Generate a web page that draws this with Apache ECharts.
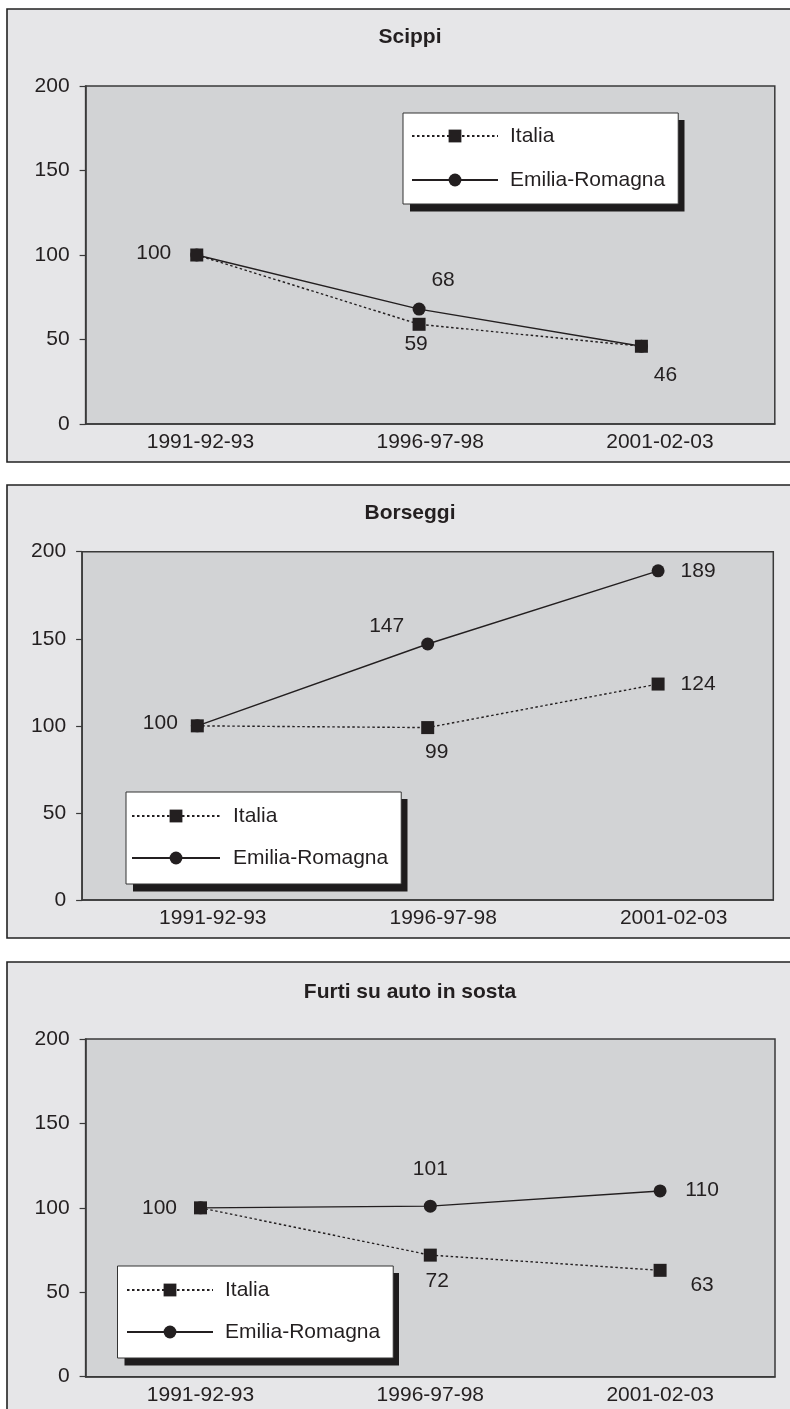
<!DOCTYPE html>
<html>
<head>
<meta charset="utf-8">
<script src="https://cdn.jsdelivr.net/npm/echarts@6/dist/echarts.min.js"></script>
<style>
html,body{margin:0;padding:0;background:#ffffff;}
#chart{width:790px;height:1409px;}
</style>
</head>
<body>
<div id="chart"></div>
<script>
// ---- data ----
var categories = ['1991-92-93', '1996-97-98', '2001-02-03'];
var panelTitles = ['Scippi', 'Borseggi', 'Furti su auto in sosta'];
var seriesNames = ['Italia', 'Emilia-Romagna'];
var yTicks = [0, 50, 100, 150, 200];

var scippiItalia = [100, 59, 46];
var scippiEmilia = [100, 68, 46];
var borseggiItalia = [100, 99, 124];
var borseggiEmilia = [100, 147, 189];
var furtiItalia = [100, 72, 63];
var furtiEmilia = [100, 101, 110];

// which points carry a value label (true/false per point)
var labelShownItalia = [[true, true, true], [true, true, true], [true, true, true]];
var labelShownEmilia = [[false, true, false], [false, true, true], [false, true, true]];

// ---- layout / style ----
var INK = '#231f20';
var FONT = '"Liberation Sans", Arial, Helvetica, sans-serif';
var panels = [
  {box: [7, 9, 800, 453], titleTop: 22,
   grid: {left: 85.6, top: 86, width: 689.2, height: 338}, xMax: 2.6, labelPad: 0,
   legend: {left: 403, top: 113, w: 274.5, h: 91.5, padding: [12, 13, 13, 8], itemWidth: 86, itemGap: 22, textPad: 7},
   offIt: [[-43, -1.5], [-3, 20], [24, 29]], offEr: [null, [24, -29], null]},
  {box: [7, 485, 800, 453], titleTop: 498,
   grid: {left: 82.1, top: 551.7, width: 691.2, height: 348.3}, xMax: 2.5, labelPad: 31,
   legend: {left: 126, top: 792, w: 274.5, h: 92.5, padding: [13, 13, 15, 5], itemWidth: 88, itemGap: 20, textPad: 8},
   offIt: [[-37, -2.5], [9, 25], [40, 0]], offEr: [null, [-41, -17.5], [40, 0]]},
  {box: [7, 962, 800, 470], titleTop: 977,
   grid: {left: 85.6, top: 1039, width: 689.4, height: 337.7}, xMax: 2.5, labelPad: 0,
   legend: {left: 117.5, top: 1266, w: 274.5, h: 92.5, padding: [13, 13, 15, 8.5], itemWidth: 86, itemGap: 20, textPad: 7},
   offIt: [[-41, 0], [7, 26.5], [42, 15]], offEr: [null, [0, -36.5], [42, -1]]}
];
var panelData = [
  [scippiItalia, scippiEmilia],
  [borseggiItalia, borseggiEmilia],
  [furtiItalia, furtiEmilia]
];

var option = {
  animation: false,
  backgroundColor: '#ffffff',
  textStyle: {fontFamily: FONT, color: INK},
  title: [], grid: [], xAxis: [], yAxis: [], legend: [], series: [],
  graphic: []
};

function pointData(values, shown, offsets) {
  return values.map(function (v, i) {
    var d = {value: [i, v]};
    if (shown[i] && offsets[i]) {
      d.label = {show: true, position: 'inside', offset: offsets[i]};
    } else {
      d.label = {show: false};
    }
    return d;
  });
}

panels.forEach(function (p, k) {
  option.graphic.push({
    type: 'rect', z: -100,
    shape: {x: p.box[0], y: p.box[1], width: p.box[2], height: p.box[3]},
    style: {fill: '#e6e6e8', stroke: '#222222', lineWidth: 1.6}
  });
  // hard drop shadow behind the legend box
  option.graphic.push({
    type: 'rect', z: 3,
    shape: {x: p.legend.left + 7, y: p.legend.top + 7, width: p.legend.w, height: p.legend.h},
    style: {fill: '#1e1c1d'}
  });
  option.title.push({
    text: panelTitles[k], left: 405, top: p.titleTop, textAlign: 'center',
    textStyle: {fontFamily: FONT, fontSize: 21, fontWeight: 'bold', color: INK, lineHeight: 21}
  });
  option.grid.push({
    left: p.grid.left, top: p.grid.top, width: p.grid.width, height: p.grid.height,
    show: true, backgroundColor: '#d2d3d5', borderColor: '#3a3a3a', borderWidth: 1.5,
    containLabel: false
  });
  option.xAxis.push({
    type: 'category', gridIndex: k, data: categories, boundaryGap: true,
    axisLine: {show: true, onZero: false, lineStyle: {color: '#3a3a3a', width: 1.5}},
    axisTick: {show: false},
    axisLabel: {fontFamily: FONT, fontSize: 21, color: INK, margin: 8, padding: [0, 0, 0, p.labelPad]},
    splitLine: {show: false}
  });
  option.xAxis.push({
    type: 'value', gridIndex: k, min: -0.5, max: p.xMax, show: false,
    axisLine: {onZero: false}
  });
  option.yAxis.push({
    type: 'value', gridIndex: k, min: yTicks[0], max: yTicks[yTicks.length - 1], interval: 50,
    axisLine: {show: true, onZero: false, lineStyle: {color: '#3a3a3a', width: 1.5}},
    axisTick: {show: true, length: 6, lineStyle: {color: '#3a3a3a', width: 1.2}},
    axisLabel: {fontFamily: FONT, fontSize: 21, color: INK, margin: 16},
    splitLine: {show: false}
  });
  option.legend.push({
    orient: 'vertical', left: p.legend.left, top: p.legend.top, z: 5,
    padding: p.legend.padding, itemWidth: p.legend.itemWidth, itemHeight: 16,
    itemGap: p.legend.itemGap, selectedMode: false,
    data: seriesNames,
    backgroundColor: '#ffffff', borderColor: '#333333', borderWidth: 1,
    textStyle: {fontFamily: FONT, fontSize: 21, color: INK, lineHeight: 22, padding: [0, 0, 0, p.legend.textPad]}
  });
  var vals = panelData[k];
  option.series.push({
    name: seriesNames[0], type: 'line', xAxisIndex: 2 * k + 1, yAxisIndex: k, z: 4,
    symbol: 'rect', symbolSize: 13,
    itemStyle: {color: INK},
    lineStyle: {color: INK, width: 1.4, type: [2.5, 2.5]},
    label: {fontFamily: FONT, fontSize: 21, color: INK, formatter: function (pr) { return pr.value[1]; }},
    emphasis: {disabled: true},
    data: pointData(vals[0], labelShownItalia[k], p.offIt)
  });
  option.series.push({
    name: seriesNames[1], type: 'line', xAxisIndex: 2 * k + 1, yAxisIndex: k, z: 3,
    symbol: 'circle', symbolSize: 13,
    itemStyle: {color: INK},
    lineStyle: {color: INK, width: 1.4, type: 'solid'},
    label: {fontFamily: FONT, fontSize: 21, color: INK, formatter: function (pr) { return pr.value[1]; }},
    emphasis: {disabled: true},
    data: pointData(vals[1], labelShownEmilia[k], p.offEr)
  });
});

var chart = echarts.init(document.getElementById('chart'), null, {renderer: 'canvas'});
chart.setOption(option);
</script>
</body>
</html>
